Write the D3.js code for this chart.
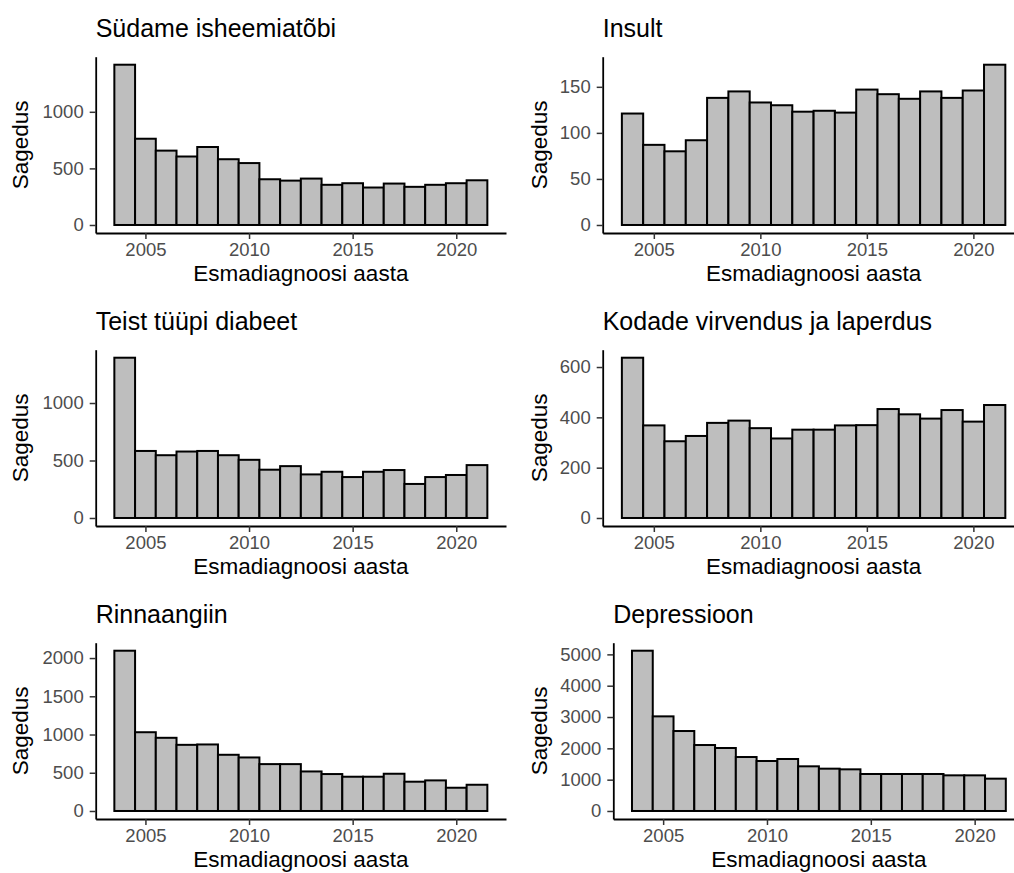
<!DOCTYPE html>
<html>
<head>
<meta charset="utf-8">
<script src="https://cdn.jsdelivr.net/npm/d3@7"></script>
<style>
  html, body { margin: 0; padding: 0; background: #fff; }
  svg { display: block; font-family: "Liberation Sans", Arial, Helvetica, sans-serif; }
</style>
</head>
<body>
<script>
// ---------- DATA ----------
const years = [2004, 2005, 2006, 2007, 2008, 2009, 2010, 2011, 2012, 2013, 2014, 2015, 2016, 2017, 2018, 2019, 2020, 2021];

const titles = [
  "Südame isheemiatõbi",
  "Insult",
  "Teist tüüpi diabeet",
  "Kodade virvendus ja laperdus",
  "Rinnaangiin",
  "Depressioon"
];

const sudameIsheemiatobi = [1416, 762, 657, 605, 689, 581, 547, 404, 392, 410, 355, 369, 331, 366, 337, 355, 369, 395];
const insult             = [121, 87, 80, 92, 138, 145, 133, 130, 123, 124, 122, 147, 142, 137, 145, 138, 146, 174];
const teistTyypiDiabeet  = [1394, 583, 546, 578, 583, 546, 506, 420, 451, 379, 402, 356, 402, 417, 296, 356, 374, 460];
const kodadeVirvendus    = [637, 368, 305, 326, 378, 387, 357, 316, 351, 351, 368, 369, 433, 412, 395, 429, 383, 449];
const rinnaangiin        = [2096, 1030, 957, 865, 870, 735, 700, 613, 613, 517, 483, 448, 448, 487, 383, 400, 304, 343];
const depressioon        = [5117, 3021, 2553, 2106, 2011, 1723, 1596, 1660, 1426, 1351, 1330, 1181, 1181, 1181, 1181, 1138, 1138, 1032];

const xTicks = [2005, 2010, 2015, 2020];
const yTicksSudame   = [0, 500, 1000];
const yTicksInsult   = [0, 50, 100, 150];
const yTicksDiabeet  = [0, 500, 1000];
const yTicksKodade   = [0, 200, 400, 600];
const yTicksRinna    = [0, 500, 1000, 1500, 2000];
const yTicksDepr     = [0, 1000, 2000, 3000, 4000, 5000];

const xTitle = "Esmadiagnoosi aasta";
const yTitle = "Sagedus";

// ---------- LAYOUT ----------
const W = 1014, H = 873;
const rowOffsets = [0, 293, 586];
const cellLefts = [0, 518.5];
const panelRights = [506, 1024.5];

const panels = [
  { title: titles[0], values: sudameIsheemiatobi, yTicks: yTicksSudame,  row: 0, col: 0, left: 95.7 },
  { title: titles[1], values: insult,             yTicks: yTicksInsult,  row: 0, col: 1, left: 602.7 },
  { title: titles[2], values: teistTyypiDiabeet,  yTicks: yTicksDiabeet, row: 1, col: 0, left: 95.7 },
  { title: titles[3], values: kodadeVirvendus,    yTicks: yTicksKodade,  row: 1, col: 1, left: 602.7 },
  { title: titles[4], values: rinnaangiin,        yTicks: yTicksRinna,   row: 2, col: 0, left: 95.7 },
  { title: titles[5], values: depressioon,        yTicks: yTicksDepr,    row: 2, col: 1, left: 613.3 }
];

const svg = d3.select("body").append("svg")
  .attr("width", W).attr("height", H);

svg.append("rect").attr("width", W).attr("height", H).attr("fill", "#fff");

const fmt = d3.format("d");

panels.forEach(p => {
  const off = rowOffsets[p.row];
  const top = off + 56.7, bottom = off + 233;
  const left = p.left, right = panelRights[p.col];
  const cellLeft = cellLefts[p.col];

  const maxV = d3.max(p.values);
  const y = d3.scaleLinear().domain([-0.05 * maxV, 1.05 * maxV]).range([bottom, top]);
  const x = d3.scaleLinear().domain([years[0] - 0.5 - 0.9, years[years.length - 1] + 0.5 + 0.9]).range([left, right]);

  const g = svg.append("g");

  // bars
  g.selectAll("rect.bar")
    .data(years.map((yr, i) => ({ yr, v: p.values[i] })))
    .enter().append("rect")
    .attr("class", "bar")
    .attr("x", d => x(d.yr - 0.5))
    .attr("width", d => x(d.yr + 0.5) - x(d.yr - 0.5))
    .attr("y", d => y(d.v))
    .attr("height", d => y(0) - y(d.v))
    .attr("fill", "#BEBEBE")
    .attr("stroke", "#000")
    .attr("stroke-width", 2);

  // y axis
  const ya = g.append("g")
    .attr("transform", `translate(${left},0)`)
    .call(d3.axisLeft(y).tickValues(p.yTicks).tickFormat(fmt).tickSize(6).tickSizeOuter(0).tickPadding(6));
  ya.select(".domain").attr("stroke", "#000").attr("stroke-width", 1.8);
  ya.selectAll(".tick line").attr("stroke", "#333").attr("stroke-width", 1.5);
  ya.selectAll(".tick text").attr("fill", "#4D4D4D").style("font-size", "18.5px")
    .style("font-family", "'Liberation Sans', Arial, sans-serif");

  // x axis
  const xa = g.append("g")
    .attr("transform", `translate(0,${bottom})`)
    .call(d3.axisBottom(x).tickValues(xTicks).tickFormat(fmt).tickSize(6).tickSizeOuter(0).tickPadding(4));
  xa.select(".domain").attr("stroke", "#000").attr("stroke-width", 1.8);
  xa.selectAll(".tick line").attr("stroke", "#333").attr("stroke-width", 1.5);
  xa.selectAll(".tick text").attr("fill", "#4D4D4D").style("font-size", "18.5px")
    .style("font-family", "'Liberation Sans', Arial, sans-serif");

  // title
  g.append("text")
    .attr("x", left)
    .attr("y", off + 37)
    .attr("fill", "#000")
    .style("font-size", "25px")
    .text(p.title);

  // x axis title
  g.append("text")
    .attr("x", (left + right) / 2)
    .attr("y", off + 281)
    .attr("text-anchor", "middle")
    .attr("fill", "#000")
    .style("font-size", "22.5px")
    .text(xTitle);

  // y axis title
  g.append("text")
    .attr("transform", `translate(${cellLeft + 28},${(top + bottom) / 2}) rotate(-90)`)
    .attr("text-anchor", "middle")
    .attr("fill", "#000")
    .style("font-size", "22.5px")
    .text(yTitle);
});
</script>
</body>
</html>
